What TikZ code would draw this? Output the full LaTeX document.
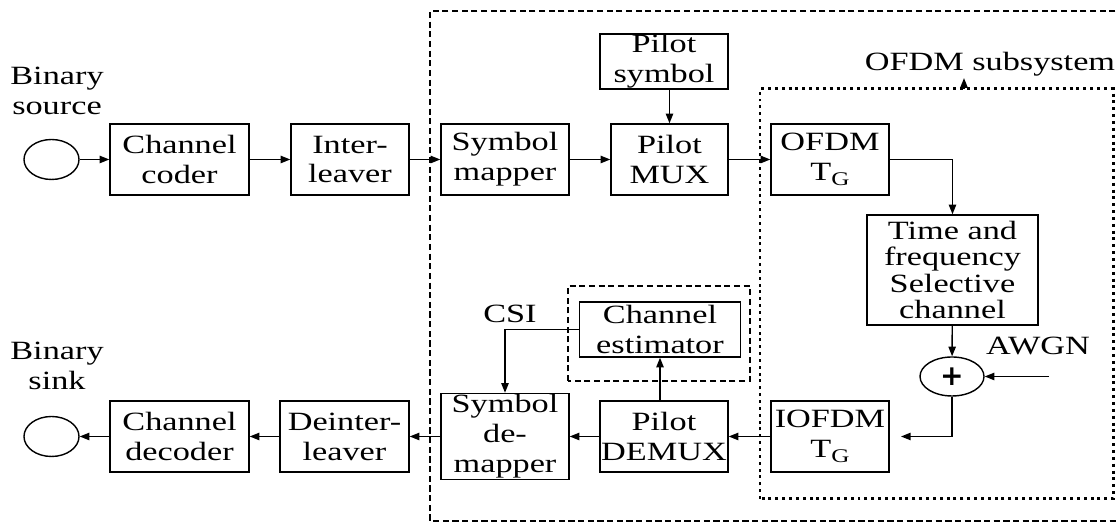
\documentclass[tikz,border=0pt]{standalone}
\usepackage{fontspec}
\setmainfont{Liberation Serif}[FakeStretch=1.3]
\newfontfamily\plusfont{DejaVu Sans}
\usetikzlibrary{arrows.meta, shapes.geometric}
\tikzstyle{block} = [draw, thick, minimum height=1.42cm, inner sep=0pt, align=center, font=\fontsize{15}{17}\selectfont]
\tikzstyle{port} = [draw, thick, ellipse, minimum width=1.1cm, minimum height=0.8cm, inner sep=0pt]
\tikzstyle{lbl} = [align=center, inner sep=1pt, font=\fontsize{15}{17}\selectfont]
\newcommand{\subTG}{T\raisebox{-0.45ex}{\fontsize{11}{11}\selectfont G}}

\begin{document}
\begin{tikzpicture}[>={Triangle[length=5.5pt,width=4.2pt]}]
      \useasboundingbox (0,0) rectangle (22.36,10.46);
      % frames
      \draw[semithick, dash pattern=on 3.5pt off 2pt] (22.5,10.24) -- (8.6,10.24) -- (8.6,0.04) -- (22.5,0.04);
      \draw[line width=1.7pt, dash pattern=on 1.7pt off 2.2pt] (15.2,0.48) rectangle (22.26,8.68);
      \draw[semithick, dash pattern=on 3.5pt off 2pt] (11.36,2.84) rectangle (15.0,4.74);

      % transmitter
      \node[lbl] (srctxt) at (1.14, 8.64) {Binary\\source};
      \node[port] (src) at (1.03, 7.27) {};
      \node[block, minimum width=2.78cm] (coder) at (3.59, 7.27) {Channel\\coder};
      \node[block, minimum width=2.36cm] (ileave) at (7.0, 7.27) {Inter-\\leaver};
      \node[block, minimum width=2.56cm] (mapper) at (10.1, 7.27) {Symbol\\mapper};
      \node[block, minimum width=2.56cm, minimum height=1.1cm] (pilot) at (13.28, 9.23) {Pilot\\symbol};
      \node[block, minimum width=2.34cm] (mux) at (13.39, 7.27) {Pilot\\MUX};
      \node[block, minimum width=2.36cm] (ofdm) at (16.6, 7.27) {OFDM\\\subTG};

      % channel
      \node[lbl] (osys) at (19.8, 9.18) {OFDM subsystem};
      \coordinate (oarrow) at (19.28, 8.68);
      \node[block, minimum width=3.42cm, minimum height=2.2cm, font=\fontsize{15}{14.9}\selectfont] (chan) at (19.05, 5.06) {Time and\\frequency\\Selective\\channel};
      \node[draw, thick, ellipse, minimum width=1.28cm, minimum height=0.78cm, inner sep=0pt] (sum) at (19.04, 2.93) {\plusfont\fontsize{16}{16}\selectfont\bfseries +};
      \node[lbl] (awgn) at (20.76, 3.54) {AWGN};
      \coordinate (awgnin) at (20.98, 2.93);

      % receiver
      \node[block, minimum width=2.36cm] (iofdm) at (16.6, 1.73) {IOFDM\\\subTG};
      \coordinate (iofdmin) at (18.02, 1.73);
      \node[block, minimum width=2.56cm] (demux) at (13.28, 1.73) {Pilot\\DEMUX};
      \node[block, minimum width=3.22cm, minimum height=1.1cm] (est) at (13.2, 3.87) {Channel\\estimator};
      \node[lbl] (csi) at (10.2, 4.18) {CSI};
      \node[block, minimum width=2.56cm, minimum height=1.72cm] (demapper) at (10.1, 1.73) {Symbol\\de-\\mapper};
      \node[block, minimum width=2.58cm] (dileave) at (6.89, 1.73) {Deinter-\\leaver};
      \node[block, minimum width=2.78cm] (decoder) at (3.59, 1.73) {Channel\\decoder};
      \node[port] (sink) at (1.03, 1.73) {};
      \node[lbl] (sinktxt) at (1.14, 3.14) {Binary\\sink};

      \draw[->, thick] (src) -- (coder);
      \draw[->, thick] (coder) -- (ileave);
      \draw[->, thick] (ileave) -- (mapper);
      \draw[->, thick] (mapper) -- (mux);
      \draw[->, thick] (pilot.south -| mux) -- (mux);
      \draw[->, thick] (mux) -- (ofdm);
      \draw[->, thick] (ofdm) -| (chan);
      \draw[->, thick] (oarrow) -- (oarrow |- osys.south);
      \draw[->, thick] (chan) -- (sum);
      \draw[->, thick] (awgnin) -- (sum);
      \draw[->, thick] (sum) |- (iofdmin);
      \draw[->, thick] (iofdm) -- (demux);
      \draw[->, thick] (demux.north -| est) -- (est);
      \draw[->, thick] (est) -| (demapper);
      \draw[->, thick] (demux) -- (demapper);
      \draw[->, thick] (demapper) -- (dileave);
      \draw[->, thick] (dileave) -- (decoder);
      \draw[->, thick] (decoder) -- (sink);
    \end{tikzpicture}
\end{document}
